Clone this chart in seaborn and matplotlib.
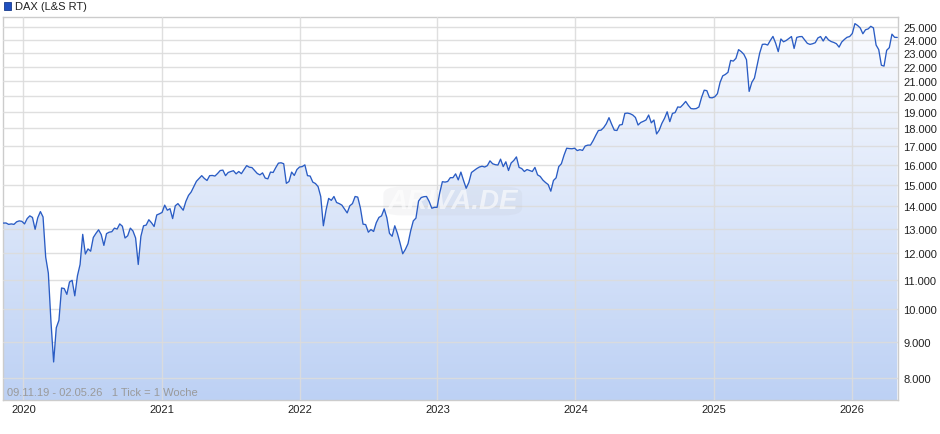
import numpy as np
import pandas as pd
import matplotlib
matplotlib.use("Agg")
import matplotlib.pyplot as plt
import matplotlib.dates as mdates
from matplotlib.colors import LinearSegmentedColormap
from matplotlib.patches import Rectangle, FancyBboxPatch
from matplotlib.ticker import FixedLocator, FuncFormatter, NullLocator
import seaborn as sns

# ── Palette ──────────────────────────────────────────────────────────────────
LINE   = "#2a5cc4"
GRID   = "#dcdcdc"
FRAME  = "#cccccc"
TEXT   = "#222222"
NOTE   = "#9a9a9a"
FILL_TOP = "#fbfcff"
FILL_BOT = "#bdd1f4"

# ── Data (weekly points) ─────────────────────────────────────────────────────
start, end = "2019-11-09", "2026-05-02"
title = "DAX (L&S RT)"
note = "09.11.19 - 02.05.26   1 Tick = 1 Woche"

dax_2019 = [13236, 13240, 13180, 13200, 13180, 13290, 13330, 13310]
dax_2020 = [13200, 13430, 13550, 13480, 12970, 13470, 13740, 13500, 11850, 11250,
            9600, 8430, 9420, 9650, 10720, 10700, 10500, 10930, 10990, 10450,
            11150, 11570, 12760, 11970, 12170, 12080, 12630, 12800, 12950, 12750,
            12310, 12790, 12850, 12870, 13020, 12980, 13200, 13100, 12610, 12700,
            13020, 12900, 12610, 11570, 12680, 13120, 13150, 13380, 13250, 13090,
            13590, 13640]
dax_2021 = [13700, 14030, 13800, 13870, 13430, 14000, 14100, 13950, 13800, 14200,
            14480, 14640, 14900, 15160, 15300, 15440, 15300, 15200, 15440, 15450,
            15420, 15550, 15700, 15720, 15440, 15600, 15650, 15690, 15530, 15650,
            15540, 15750, 15950, 15870, 15850, 15700, 15550, 15480, 15580, 15320,
            15280, 15620, 15600, 15850, 16080, 16100, 16050, 15060, 15150, 15620,
            15450, 15750]
dax_2022 = [15880, 15900, 15990, 15440, 15420, 15120, 15050, 14900, 14430, 13120,
            13800, 14340, 14250, 14430, 14150, 14100, 14030, 13850, 13680, 14000,
            14100, 14430, 14400, 13900, 13190, 13170, 12850, 12960, 12880, 13250,
            13480, 13550, 13860, 13470, 12800, 12680, 13120, 12800, 12400, 11980,
            12150, 12380, 12900, 13330, 13450, 14220, 14380, 14420, 14430, 14200,
            13890, 13930, 13930]
dax_2023 = [14600, 15140, 15120, 15150, 15340, 15340, 15530, 15230, 15620, 15200,
            14820, 15100, 15600, 15700, 15800, 15880, 15920, 15880, 15950, 16200,
            16050, 16000, 15980, 16290, 15900, 16150, 15700, 16090, 16220, 16410,
            15860, 15800, 15650, 15750, 15700, 15650, 15860, 15480, 15400, 15220,
            15100, 15000, 14680, 15200, 15330, 15900, 16050, 16500, 16880, 16860,
            16850, 16880]
dax_2024 = [16750, 16800, 16760, 17000, 17050, 17050, 17300, 17600, 17880, 17900,
            18050, 18280, 18640, 18250, 17900, 17880, 18200, 18230, 18900, 18920,
            18880, 18800, 18650, 18200, 18350, 18420, 18500, 18800, 18330, 18500,
            17680, 17900, 18300, 18600, 19000, 18400, 18900, 18950, 19300, 19280,
            19450, 19650, 19400, 19200, 19180, 19200, 19300, 19900, 20380, 20350,
            19900, 19880]
dax_2025 = [19950, 20150, 20900, 21350, 21450, 21600, 22450, 22400, 22600, 23250,
            23100, 22900, 22500, 20300, 20900, 21200, 22100, 23000, 23650, 23670,
            23600, 23950, 24270, 23750, 23100, 24070, 23850, 23950, 24100, 24260,
            23340, 24190, 24250, 24260, 24000, 23730, 23650, 23700, 23780, 24150,
            24260, 23910, 24260, 24000, 23870, 23800, 23700, 23440, 23830, 24030,
            24200, 24260]
dax_2026 = [24500, 25300, 25150, 24950, 24480, 24800, 24870, 25080, 24950, 23600,
            23250, 22100, 22040, 23200, 23400, 24450, 24200, 24190]

y_ticks = [8000, 9000, 10000, 11000, 12000, 13000, 14000, 15000, 16000, 17000,
           18000, 19000, 20000, 21000, 22000, 23000, 24000, 25000]

dax = dax_2019 + dax_2020 + dax_2021 + dax_2022 + dax_2023 + dax_2024 + dax_2025 + dax_2026
weeks = pd.date_range(start, end, freq="7D")
df = pd.DataFrame({"Datum": weeks, "DAX": dax})

# ── Style ────────────────────────────────────────────────────────────────────
sns.set_theme(style="white")
plt.rcParams["font.family"] = ["Liberation Sans", "DejaVu Sans"]

fig = plt.figure(figsize=(9.4, 4.35), dpi=100, facecolor="white")
ax = fig.add_axes([3 / 940, 34 / 435, 895 / 940, 383 / 435])
ax.set_facecolor("white")

sns.lineplot(data=df, x="Datum", y="DAX", ax=ax, color=LINE, lw=0.95, zorder=4)
ax.set_yscale("log")

# gradient area under the curve
poly = ax.fill_between(df["Datum"], df["DAX"], 1000, color="none", lw=0)
cmap = LinearSegmentedColormap.from_list("fill", [FILL_TOP, FILL_BOT])
grad = np.linspace(0, 1, 256).reshape(-1, 1)
im = ax.imshow(grad, aspect="auto", cmap=cmap, extent=[0, 1, 0, 1],
               transform=ax.transAxes, origin="upper", zorder=1)
im.set_clip_path(poly.get_paths()[0], transform=ax.transData)

ax.set_xlim(weeks[0] - pd.Timedelta(days=1), weeks[-1] + pd.Timedelta(days=2))
ax.set_ylim(7450, 25850)

# axes / ticks
ax.yaxis.tick_right()
ax.yaxis.set_major_locator(FixedLocator(y_ticks))
ax.yaxis.set_minor_locator(NullLocator())
ax.yaxis.set_major_formatter(FuncFormatter(lambda v, _: f"{int(round(v)):,}".replace(",", ".")))
ax.xaxis.set_major_locator(mdates.YearLocator())
ax.xaxis.set_major_formatter(mdates.DateFormatter("%Y"))
ax.tick_params(axis="y", length=0, pad=4, labelsize=8, labelcolor=TEXT)
ax.tick_params(axis="x", length=0, pad=3, labelsize=8, labelcolor=TEXT)
ax.set_xlabel(""); ax.set_ylabel("")

ax.set_axisbelow(False)
ax.grid(True, which="major", color=GRID, lw=1, alpha=0.9, zorder=2)
for s in ax.spines.values():
    s.set_color(FRAME); s.set_linewidth(1)

# watermark + period note
ax.add_patch(FancyBboxPatch((0.425, 0.482), 0.155, 0.075, transform=ax.transAxes,
                            boxstyle="round,pad=0.0,rounding_size=0.02",
                            fc="#b0b4bc", ec="none", alpha=0.11, zorder=3))
ax.text(0.503, 0.519, "ARIVA.DE", transform=ax.transAxes, ha="center", va="center",
        fontsize=20, fontweight="bold", fontstyle="italic", color="white", alpha=0.6, zorder=3)
ax.text(0.005, 0.008, note, transform=ax.transAxes, ha="left", va="bottom",
        fontsize=8, color=NOTE, zorder=5)

# legend
fig.add_artist(Rectangle((4 / 940, 1 - 11 / 435), 7 / 940, 8 / 435, transform=fig.transFigure,
                         fc="#1f4fbf", ec="#173b8c", lw=0.6))
fig.text(15 / 940, 1 - 7 / 435, title, ha="left", va="center", fontsize=8, color=TEXT)

fig.savefig("out.png", dpi=100, facecolor="white")
